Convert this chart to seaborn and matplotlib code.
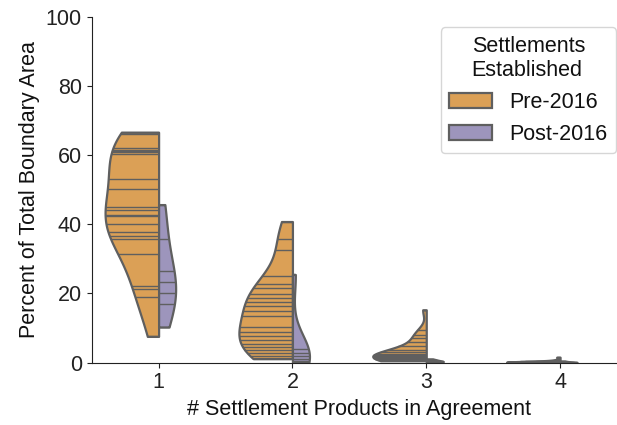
import numpy as np
import pandas as pd
import matplotlib
matplotlib.use("Agg")
import matplotlib.pyplot as plt
import seaborn as sns

# Number of settlement products that agree, and the settlement periods
categories = ["1", "2", "3", "4"]
periods = ["Pre-2016", "Post-2016"]
period_colors = ["#f1a340", "#998ec3"]

# Percent of total boundary area, one value per settlement boundary
pre_1 = [66.6, 66.0, 62.0, 61.5, 61.1, 60.8, 60.3, 53.2, 50.3, 45.0, 44.0,
         42.8, 42.3, 40.2, 37.9, 36.5, 35.8, 31.4, 22.3, 21.4, 19.0, 7.6]
post_1 = [45.7, 35.8, 26.6, 23.2, 20.1, 17.0, 10.3]

pre_2 = [40.8, 35.8, 32.7, 25.1, 22.8, 21.6, 19.9, 18.7, 17.5, 16.3, 15.0,
         13.4, 10.3, 9.0, 7.6, 6.6, 5.4, 4.4, 3.8, 2.8, 1.8, 1.2]
post_2 = [25.5, 4.0, 2.8, 1.8, 1.2, 0.5, 0.1]

pre_3 = [15.3, 9.5, 8.1, 7.1, 6.0, 4.7, 3.8, 3.1, 2.6, 2.3, 2.1,
         1.9, 1.8, 1.6, 1.5, 1.4, 1.3, 1.2, 1.1, 1.0, 0.8, 0.6]
post_3 = [1.1, 0.8, 0.6, 0.4, 0.3, 0.2, 0.1]

pre_4 = [1.6, 0.9, 0.6, 0.5, 0.4, 0.35, 0.3, 0.28, 0.25, 0.22, 0.2,
         0.18, 0.15, 0.12, 0.1, 0.08, 0.06, 0.05, 0.04, 0.03, 0.02, 0.01]
post_4 = [0.5, 0.3, 0.2, 0.1, 0.05, 0.02, 0.01]

series = {
    ("1", "Pre-2016"): pre_1, ("1", "Post-2016"): post_1,
    ("2", "Pre-2016"): pre_2, ("2", "Post-2016"): post_2,
    ("3", "Pre-2016"): pre_3, ("3", "Post-2016"): post_3,
    ("4", "Pre-2016"): pre_4, ("4", "Post-2016"): post_4,
}
rows = [
    {"products": cat, "period": per, "percent": v}
    for (cat, per), vals in series.items() for v in vals
]
df = pd.DataFrame(rows)

sns.set_style("ticks")
fs = 15.5
plt.rcParams["font.family"] = ["Liberation Sans", "DejaVu Sans"]
plt.rcParams["font.size"] = fs
plt.rcParams["axes.labelsize"] = fs
plt.rcParams["xtick.labelsize"] = fs
plt.rcParams["ytick.labelsize"] = fs
plt.rcParams["legend.fontsize"] = fs
plt.rcParams["legend.title_fontsize"] = fs
plt.rcParams["axes.edgecolor"] = "#222222"
plt.rcParams["xtick.color"] = "#222222"
plt.rcParams["ytick.color"] = "#222222"
plt.rcParams["text.color"] = "#111111"
plt.rcParams["axes.labelcolor"] = "#111111"

fig = plt.figure(figsize=(6.17, 4.25), dpi=100)
ax = fig.add_axes([0.1486, 0.1466, 0.8676, 0.8141])

sns.violinplot(
    data=df, x="products", y="percent", hue="period",
    order=categories, hue_order=periods, palette=period_colors,
    split=True, inner="stick", cut=0,
    density_norm="count", common_norm=True,
    linecolor="#5f5f5f", linewidth=1.6,
    inner_kws={"linewidth": 1.0}, ax=ax,
)

ax.set_ylim(0, 100)
ax.set_yticks([0, 20, 40, 60, 80, 100])
ax.set_xlabel("# Settlement Products in Agreement")
ax.set_ylabel("Percent of Total Boundary Area")
sns.despine(ax=ax)
sns.move_legend(ax, "upper right", title="Settlements\nEstablished")

fig.savefig("out.png", dpi=100)
